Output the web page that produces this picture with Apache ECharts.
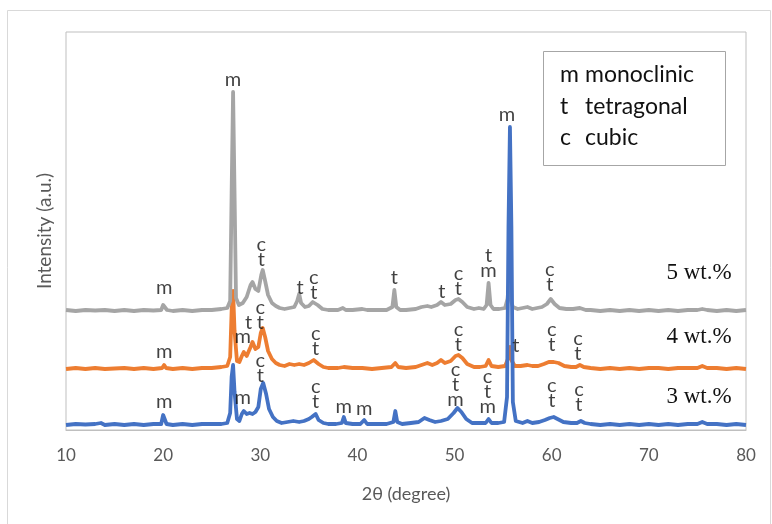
<!DOCTYPE html>
<html>
<head>
<meta charset="utf-8">
<script src="https://cdn.jsdelivr.net/npm/echarts@6/dist/echarts.min.js"></script>
<style>
  html, body { margin: 0; padding: 0; background: #fff; }
  #chart { width: 772px; height: 524px; }
</style>
</head>
<body>
<div id="chart"></div>
<script>
// XRD patterns, [2theta, intensity above the pattern's own baseline]
const pattern5 = [
  [10, 3], [11, 2], [12, 3], [13, 2.5], [14, 3], [15, 2], [16, 3], [17, 2], [18, 3], [19, 2.5],
  [19.8, 3], [20.0, 8], [20.2, 9], [20.4, 3], [21, 2], [22, 3], [23, 2], [24, 3], [25, 3], [26, 4],
  [26.6, 5], [26.9, 12], [27.05, 120], [27.2, 221], [27.35, 120], [27.5, 15], [27.8, 8], [28.2, 10],
  [28.6, 16], [29.0, 28], [29.2, 31], [29.5, 24], [29.8, 22], [30.1, 38], [30.25, 43], [30.5, 32],
  [30.8, 18], [31.2, 10], [31.6, 7], [32, 5], [32.5, 4], [33, 5], [33.5, 6], [33.8, 12], [34.0, 19],
  [34.2, 10], [34.6, 6], [35, 7], [35.4, 11], [35.6, 13], [35.9, 8], [36.4, 4], [37, 3], [37.5, 3],
  [38, 3], [38.5, 5], [38.8, 3], [39.5, 3], [40.5, 4], [41, 3], [42, 3], [43, 3], [43.6, 6],
  [43.8, 23], [44.0, 6], [44.4, 3], [45, 3], [46, 4], [46.6, 6], [47.2, 7], [47.6, 6], [48.2, 8],
  [48.6, 11], [49, 8], [49.6, 9], [50.1, 13], [50.4, 14], [50.8, 11], [51.3, 6], [52, 4], [52.5, 5],
  [53, 4], [53.3, 8], [53.5, 30], [53.7, 8], [54, 4], [54.6, 4], [55.2, 5], [55.45, 14], [55.6, 31],
  [55.75, 14], [56, 6], [56.5, 4], [57, 5], [57.5, 6], [58, 4], [58.5, 5], [59, 6], [59.5, 9],
  [59.9, 14], [60.3, 9], [60.8, 5], [61.5, 4], [62.2, 4], [62.9, 5], [63.5, 3], [64, 3], [65, 2],
  [66, 3], [67, 2], [68, 3], [69, 2], [70, 3], [71, 2], [72, 3], [73, 2], [74, 3], [75, 3],
  [75.5, 4], [76, 3], [77, 2], [78, 3], [79, 2], [80, 3]
];

const pattern4 = [
  [10, 2], [11, 3], [12, 2], [13, 3], [14, 2], [15, 2.5], [16, 3], [17, 2], [18, 3], [19, 2],
  [19.9, 3], [20.1, 6], [20.3, 3], [21, 2], [22, 3], [23, 2], [24, 3], [25, 3], [26, 4], [26.6, 5],
  [26.9, 14], [27.05, 60], [27.2, 80], [27.35, 40], [27.6, 10], [27.85, 9], [28.1, 15], [28.3, 19],
  [28.6, 15], [29.0, 24], [29.2, 29], [29.5, 22], [29.8, 24], [30.05, 38], [30.25, 43], [30.5, 34],
  [30.8, 20], [31.2, 12], [31.6, 8], [32, 6], [32.5, 5], [33, 7], [33.5, 6], [34, 7], [34.5, 6],
  [35, 8], [35.5, 11], [35.7, 12], [36, 7], [36.5, 4], [37, 3], [38, 3], [38.6, 4], [39.5, 3],
  [40.5, 3], [41.5, 2], [42.5, 3], [43.5, 4], [43.9, 8], [44.2, 4], [45, 3], [46, 4], [46.6, 6],
  [47.2, 8], [47.7, 6], [48.2, 8], [48.6, 11], [49.0, 8], [49.6, 10], [50.1, 15], [50.4, 16],
  [50.8, 13], [51.3, 7], [52, 4], [52.6, 4], [53.2, 5], [53.5, 11], [53.8, 5], [54.5, 4], [55.2, 5],
  [55.5, 12], [55.7, 24], [55.9, 10], [56.2, 5], [56.8, 5], [57.5, 6], [58, 5], [58.6, 5], [59.2, 7],
  [59.7, 9], [60.2, 9], [60.7, 8], [61.3, 5], [62, 4], [62.5, 4], [62.9, 6], [63.3, 4], [64, 3],
  [65, 2], [66, 3], [67, 2], [68, 3], [69, 2], [70, 3], [71, 3], [72, 2], [73, 3], [74, 3], [75, 3],
  [75.5, 5], [76, 3], [77, 3], [78, 2], [79, 3], [80, 2]
];

const pattern3 = [
  [10, 2], [11, 3], [12, 2.5], [13, 3], [13.6, 4], [14, 2], [15, 3], [16, 2], [17, 3], [18, 2],
  [19, 3], [19.8, 3], [20.0, 12], [20.15, 13], [20.35, 3], [21, 2], [22, 3], [23, 2], [24, 3],
  [25, 3], [26, 3], [26.6, 4], [26.9, 14], [27.05, 50], [27.2, 62], [27.35, 35], [27.6, 8],
  [27.85, 6], [28.1, 13], [28.3, 16], [28.6, 13], [28.9, 14], [29.2, 13], [29.5, 15], [29.8, 20],
  [30.05, 38], [30.3, 44], [30.6, 33], [30.9, 18], [31.3, 10], [31.7, 6], [32.2, 4], [32.8, 5],
  [33.4, 6], [34, 5], [34.5, 6], [35.0, 8], [35.3, 10], [35.7, 13], [36, 7], [36.5, 4], [37, 3],
  [37.8, 3], [38.4, 4], [38.6, 10], [38.8, 4], [39.5, 3], [40.3, 3], [40.7, 7], [41, 3], [42, 3],
  [43, 3], [43.7, 5], [43.9, 16], [44.1, 5], [44.6, 3], [45.5, 4], [46.3, 5], [46.9, 9], [47.4, 7],
  [48, 5], [48.6, 6], [49.3, 8], [49.9, 14], [50.3, 19], [50.7, 15], [51.2, 8], [51.8, 4], [52.5, 4],
  [53.2, 4], [53.5, 8], [53.8, 4], [54.5, 4], [55.1, 5], [55.4, 30], [55.55, 200], [55.7, 300],
  [55.85, 200], [56.0, 25], [56.3, 6], [57, 4], [57.5, 6], [58, 4], [58.7, 5], [59.3, 7], [59.8, 9],
  [60.2, 10], [60.6, 8], [61.2, 5], [62, 4], [62.6, 4], [63.0, 6], [63.4, 4], [64, 3], [65, 2],
  [66, 3], [67, 2], [68, 3], [69, 2], [70, 3], [71, 2], [72, 3], [73, 2], [74, 3], [75, 3],
  [75.5, 5], [76, 3], [77, 3], [78, 2], [79, 3], [80, 2]
];

// vertical stacking of the three patterns
const offsets = [117, 59, 3];
const seriesNames = ['5 wt.%', '4 wt.%', '3 wt.%'];
const colors = ['#a5a5a5', '#ed7d31', '#4472c4'];

// phase marks: [2theta, height above baseline, letters]
const peaks5 = [
  [20.1, 25, 'm'], [27.2, 233, 'm'], [30.1, 61, 'c\nt'], [34.1, 25, 't'], [35.5, 28, 'c\nt'],
  [43.8, 35, 't'], [48.7, 21, 't'], [50.4, 32, 'c\nt'], [53.5, 50, 't\nm'], [59.8, 36, 'c\nt']
];
const peaks4 = [
  [20.1, 19, 'm'], [28.2, 34, 'm'], [28.8, 48, 't'], [30.0, 56, 'c\nt'], [35.7, 30, 'c\nt'],
  [50.4, 34, 'c\nt'], [56.3, 25, 't'], [60.0, 34, 'c\nt'], [62.7, 25, 'c\nt']
];
const peaks3 = [
  [20.1, 25, 'm'], [28.2, 29, 'm'], [30.0, 59, 'c\nt'], [35.7, 33, 'c\nt'], [38.6, 20, 'm'],
  [40.7, 18, 'm'], [50.1, 42, 'c\nt\nm'], [53.4, 35, 'c\nt\nm'], [55.4, 312, 'm'],
  [60.0, 34, 'c\nt'], [62.8, 30, 'c\nt']
];

const legendLetters = ['m', 't', 'c'];
const legendWords = ['monoclinic', 'tetragonal', 'cubic'];

const sansFont = 'Lato';
const chart = echarts.init(document.getElementById('chart'));

const patterns = [pattern5, pattern4, pattern3];
const peakSets = [peaks5, peaks4, peaks3];

const lineSeries = patterns.map((p, i) => ({
  name: seriesNames[i],
  type: 'line',
  data: p.map(d => [d[0], d[1] + offsets[i]]),
  showSymbol: false,
  symbol: 'none',
  lineStyle: { color: colors[i], width: 3.8, join: 'round' },
  z: [2, 1, 3][i]
}));

const markSeries = peakSets.map((p, i) => ({
  type: 'scatter',
  data: p.map(d => [d[0], d[1] + offsets[i], d[2]]),
  symbolSize: 0,
  z: 10,
  silent: true,
  label: {
    show: true,
    position: 'inside',
    formatter: (q) => q.data[2],
    fontFamily: sansFont,
    fontSize: 20,
    lineHeight: 15,
    color: '#111'
  }
}));

const graphics = [
  {
    type: 'rect',
    shape: { x: 7.5, y: 10.5, width: 763, height: 530 },
    style: { fill: 'none', stroke: '#d9d9d9', lineWidth: 1 },
    silent: true
  },
  {
    type: 'rect',
    shape: { x: 543.5, y: 51.5, width: 182, height: 114 },
    style: { fill: '#fff', stroke: '#a6a6a6', lineWidth: 1 },
    z: 20
  }
];
legendLetters.forEach((l, i) => {
  graphics.push({
    type: 'text', x: 560, y: 75 + i * 31.5, z: 21,
    style: { text: l, font: '23px ' + sansFont, fill: '#111', verticalAlign: 'middle' }
  });
  graphics.push({
    type: 'text', x: 585, y: 75 + i * 31.5, z: 21,
    style: { text: legendWords[i], font: '23px ' + sansFont, fill: '#111', verticalAlign: 'middle' }
  });
});
const tagY = [273, 337, 397];
seriesNames.forEach((n, i) => {
  graphics.push({
    type: 'text', x: 699, y: tagY[i], z: 21,
    style: {
      text: n, font: '23px "Liberation Serif"', fill: '#111',
      align: 'center', verticalAlign: 'middle'
    }
  });
});

chart.setOption({
  animation: false,
  backgroundColor: '#fff',
  grid: {
    left: 66, right: 26, top: 32, bottom: 94,
    show: true, borderColor: '#bfbfbf', borderWidth: 1
  },
  xAxis: {
    type: 'value',
    min: 10, max: 80, interval: 10,
    name: '2θ (degree)',
    nameLocation: 'middle',
    nameGap: 55,
    nameTextStyle: { fontFamily: sansFont, fontSize: 18, color: '#595959' },
    axisLine: { show: true, lineStyle: { color: '#bfbfbf' } },
    axisTick: { show: false },
    splitLine: { show: false },
    axisLabel: { margin: 17, fontFamily: sansFont, fontSize: 17, color: '#595959' }
  },
  yAxis: {
    type: 'value',
    min: 0, max: 398,
    name: 'Intensity (a.u.)',
    nameLocation: 'middle',
    nameGap: 12,
    nameTextStyle: { fontFamily: sansFont, fontSize: 19, color: '#595959' },
    axisLine: { show: false },
    axisTick: { show: false },
    axisLabel: { show: false },
    splitLine: { show: false }
  },
  series: lineSeries.concat(markSeries),
  graphic: graphics
});
</script>
</body>
</html>
